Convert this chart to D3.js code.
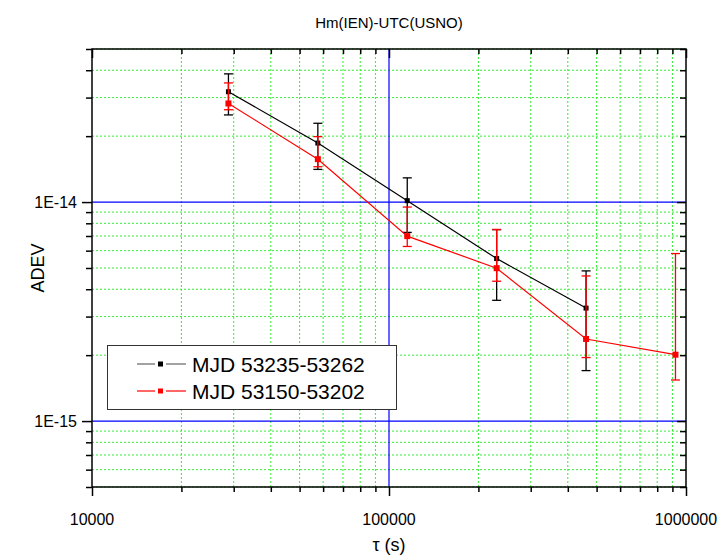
<!DOCTYPE html>
<html>
<head>
<meta charset="utf-8">
<script src="https://cdn.jsdelivr.net/npm/d3@7"></script>
<style>
  body { margin: 0; background: #fff; }
  text { font-family: Arial, "Liberation Sans", sans-serif; }
</style>
</head>
<body>
<div id="viz"></div>
<script>
var width = 720,
    height = 556;

// averaging times (s)
var tau = [28800, 57600, 115200, 230400, 460800, 921600];

// MJD 53235-53262 (black)
var adevA = [3.19e-14, 1.86e-14, 1.015e-14, 5.52e-15, 3.28e-15];
var lowA = [2.50e-14, 1.41e-14, 7.27e-15, 3.56e-15, 1.70e-15];
var highA = [3.85e-14, 2.29e-14, 1.29e-14, 7.48e-15, 4.85e-15];

// MJD 53150-53202 (red)
var adevB = [2.82e-14, 1.57e-14, 6.99e-15, 4.99e-15, 2.37e-15, 2.01e-15];
var lowB = [2.64e-14, 1.45e-14, 6.27e-15, 4.35e-15, 1.95e-15, 1.54e-15];
var highB = [3.50e-14, 1.99e-14, 9.49e-15, 7.50e-15, 4.60e-15, 5.82e-15];

var seriesNames = ["MJD 53235-53262", "MJD 53150-53202"];
var xMajor = [1e4, 1e5, 1e6];
var yMajor = [1e-15, 1e-14];
var yLabels = ["1E-15", "1E-14"];

var margin = {left: 92, right: 34, top: 49, bottom: 69};
var x0 = margin.left, x1 = width - margin.right,
    y0 = height - margin.bottom, y1 = margin.top;

var x = d3.scaleLog().domain([1e4, 1e6]).range([x0, x1]);
var y = d3.scaleLog().domain([5e-16, 5e-14]).range([y0, y1]);

// minor tick values: 1..9 multiples inside the domain
var xTicks = [], yTicks = [];
[1e4, 1e5].forEach(function(d) {
    for (var k = 1; k <= 9; k++) xTicks.push(d * k);
});
xTicks.push(1e6);
[1e-16, 1e-15, 1e-14].forEach(function(d) {
    for (var k = 1; k <= 9; k++) {
        var v = d * k;
        if (v >= 5e-16 * 0.999 && v <= 5e-14 * 1.001) yTicks.push(v);
    }
});

function isMajor(v) {
    var l = Math.log10(v);
    return Math.abs(l - Math.round(l)) < 1e-6;
}

var svg = d3.select("#viz").append("svg")
    .attr("width", width)
    .attr("height", height);

// green minor grid
svg.append("g").selectAll("line.gx")
    .data(xTicks.filter(function(d) { return !isMajor(d); }))
    .enter().append("line")
    .attr("x1", function(d) { return x(d); })
    .attr("x2", function(d) { return x(d); })
    .attr("y1", y0).attr("y2", y1)
    .attr("stroke", "#33ee33").attr("stroke-width", 1)
    .attr("stroke-dasharray", "2,2");

svg.append("g").selectAll("line.gy")
    .data(yTicks.filter(function(d) { return !isMajor(d); }))
    .enter().append("line")
    .attr("y1", function(d) { return y(d); })
    .attr("y2", function(d) { return y(d); })
    .attr("x1", x0).attr("x2", x1)
    .attr("stroke", "#33ee33").attr("stroke-width", 1)
    .attr("stroke-dasharray", "2,2");

// blue major grid
svg.append("line")
    .attr("x1", x(1e5)).attr("x2", x(1e5))
    .attr("y1", y0).attr("y2", y1)
    .attr("stroke", "#0000ff").attr("stroke-width", 1.2);

svg.append("g").selectAll("line")
    .data(yMajor)
    .enter().append("line")
    .attr("y1", function(d) { return y(d); })
    .attr("y2", function(d) { return y(d); })
    .attr("x1", x0).attr("x2", x1)
    .attr("stroke", "#0000ff").attr("stroke-width", 1.2);

// axes: left & bottom ticks outward, top & right inward
function styleAxis(g, inward) {
    g.select(".domain").remove();
    g.selectAll(".tick line")
        .attr("stroke", "#000")
        .attr("stroke-width", 1.5);
    g.selectAll(".tick text").remove();
}

var axBottom = svg.append("g")
    .attr("transform", "translate(0," + y0 + ")")
    .call(d3.axisBottom(x).tickValues(xTicks).tickSizeOuter(0));
axBottom.selectAll(".tick line").attr("y2", function(d) { return isMajor(d) ? 9 : 5; });

var axTop = svg.append("g")
    .attr("transform", "translate(0," + y1 + ")")
    .call(d3.axisTop(x).tickValues(xTicks).tickSizeOuter(0));
axTop.selectAll(".tick line").attr("y2", function(d) { return isMajor(d) ? 9 : 5; });

var axLeft = svg.append("g")
    .attr("transform", "translate(" + x0 + ",0)")
    .call(d3.axisLeft(y).tickValues(yTicks).tickSizeOuter(0));
axLeft.selectAll(".tick line").attr("x2", function(d) { return isMajor(d) ? -10 : -6; });

var axRight = svg.append("g")
    .attr("transform", "translate(" + x1 + ",0)")
    .call(d3.axisRight(y).tickValues(yTicks).tickSizeOuter(0));
axRight.selectAll(".tick line").attr("x2", function(d) { return isMajor(d) ? -9 : -6; });

[axBottom, axTop, axLeft, axRight].forEach(function(g) { styleAxis(g); });

// frame
svg.append("rect")
    .attr("x", x0).attr("y", y1)
    .attr("width", x1 - x0).attr("height", y0 - y1)
    .attr("fill", "none")
    .attr("stroke", "#000")
    .attr("stroke-width", 1.5);

// tick labels
svg.append("g").selectAll("text")
    .data(xMajor)
    .enter().append("text")
    .attr("x", function(d) { return x(d); })
    .attr("y", 525)
    .attr("text-anchor", "middle")
    .attr("font-size", 16)
    .text(function(d) { return d3.format("d")(d); });

svg.append("g").selectAll("text")
    .data(yMajor)
    .enter().append("text")
    .attr("x", 77)
    .attr("y", function(d) { return y(d) + 6; })
    .attr("text-anchor", "end")
    .attr("font-size", 16)
    .text(function(d, i) { return yLabels[i]; });

// titles
svg.append("text")
    .attr("x", (x0 + x1) / 2).attr("y", 28)
    .attr("text-anchor", "middle")
    .attr("font-size", 15)
    .text("Hm(IEN)-UTC(USNO)");

svg.append("text")
    .attr("x", (x0 + x1) / 2).attr("y", 551)
    .attr("text-anchor", "middle")
    .attr("font-size", 18)
    .text("τ (s)");

svg.append("text")
    .attr("transform", "translate(44," + ((y0 + y1) / 2) + ") rotate(-90)")
    .attr("text-anchor", "middle")
    .attr("font-size", 18)
    .text("ADEV");

// draw one series with error bars, connecting line and square markers
function drawSeries(vals, lows, highs, color, size) {
    var pts = vals.map(function(v, i) {
        return {t: tau[i], v: v, lo: lows[i], hi: highs[i]};
    });
    var g = svg.append("g");

    var bars = g.selectAll("g.err").data(pts).enter().append("g");
    bars.append("line")
        .attr("x1", function(d) { return x(d.t); })
        .attr("x2", function(d) { return x(d.t); })
        .attr("y1", function(d) { return y(d.lo); })
        .attr("y2", function(d) { return y(d.hi); })
        .attr("stroke", color).attr("stroke-width", 1.3);
    ["lo", "hi"].forEach(function(k) {
        bars.append("line")
            .attr("x1", function(d) { return x(d.t) - 4.5; })
            .attr("x2", function(d) { return x(d.t) + 4.5; })
            .attr("y1", function(d) { return y(d[k]); })
            .attr("y2", function(d) { return y(d[k]); })
            .attr("stroke", color).attr("stroke-width", 1.3);
    });

    g.append("path")
        .datum(pts)
        .attr("fill", "none")
        .attr("stroke", color)
        .attr("stroke-width", 1.2)
        .attr("d", d3.line()
            .x(function(d) { return x(d.t); })
            .y(function(d) { return y(d.v); }));

    g.selectAll("rect").data(pts).enter().append("rect")
        .attr("x", function(d) { return x(d.t) - size / 2; })
        .attr("y", function(d) { return y(d.v) - size / 2; })
        .attr("width", size).attr("height", size)
        .attr("fill", color);
}

drawSeries(adevA, lowA, highA, "#000", 5);
drawSeries(adevB, lowB, highB, "#ff0000", 6);

// legend
var legend = svg.append("g");
legend.append("rect")
    .attr("x", 107.5).attr("y", 345.5)
    .attr("width", 289).attr("height", 64)
    .attr("fill", "#fff")
    .attr("stroke", "#333")
    .attr("stroke-width", 1);

var legendColors = ["#000", "#ff0000"];
seriesNames.forEach(function(name, i) {
    var ly = 364 + i * 27;
    var c = legendColors[i];
    legend.append("line")
        .attr("x1", 137).attr("x2", 155).attr("y1", ly).attr("y2", ly)
        .attr("stroke", c).attr("stroke-width", 1.2).attr("opacity", i == 0 ? 0.6 : 1);
    legend.append("line")
        .attr("x1", 166).attr("x2", 186).attr("y1", ly).attr("y2", ly)
        .attr("stroke", c).attr("stroke-width", 1.2).attr("opacity", i == 0 ? 0.6 : 1);
    legend.append("rect")
        .attr("x", 158).attr("y", ly - 2.5)
        .attr("width", 5).attr("height", 5)
        .attr("fill", c);
    legend.append("text")
        .attr("x", 192).attr("y", ly + 7.5)
        .attr("font-size", 21)
        .text(name);
});
</script>
</body>
</html>
